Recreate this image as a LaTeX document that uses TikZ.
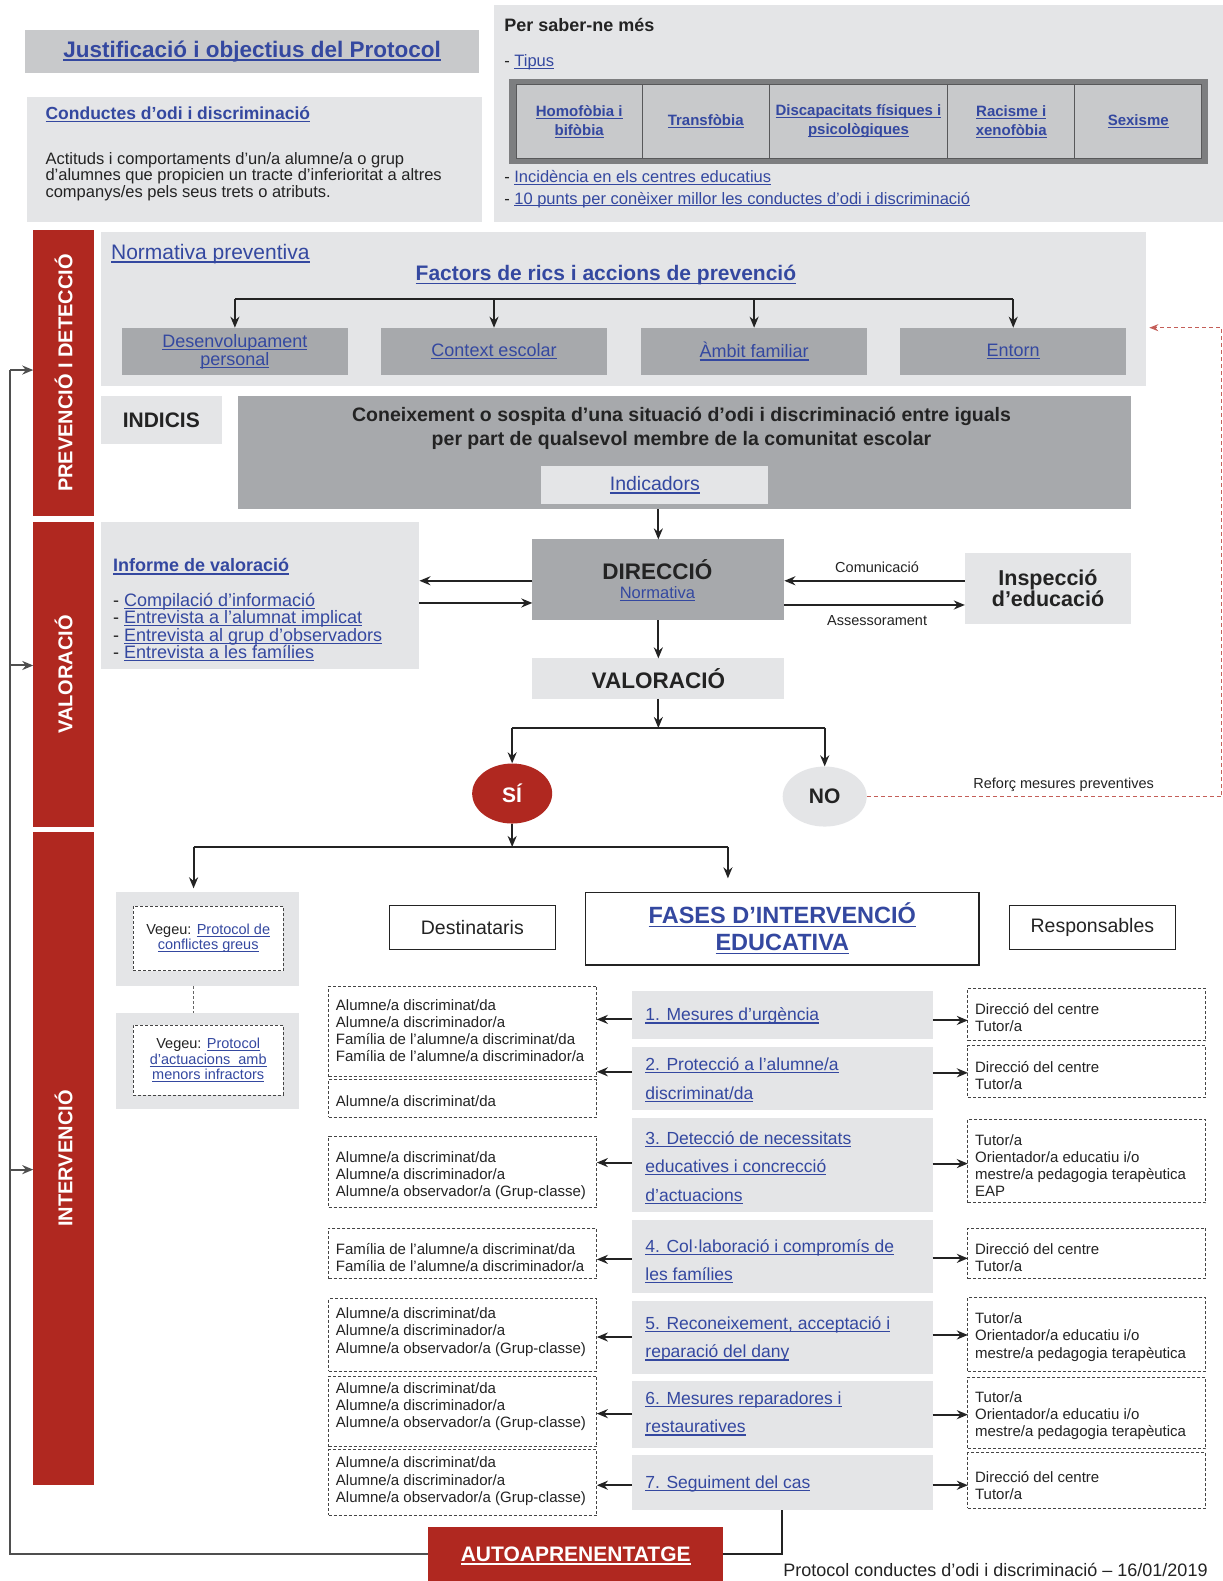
\documentclass[tikz,border=0pt]{standalone}
\usepackage{fontspec}
\setmainfont{Liberation Sans}
\usetikzlibrary{arrows.meta,shapes.geometric}
\definecolor{bandred}{RGB}{176,40,32}
\definecolor{pale}{RGB}{228,229,231}
\definecolor{mid}{RGB}{200,201,203}
\definecolor{dark}{RGB}{167,169,172}
\definecolor{tabframe}{RGB}{125,126,128}
\definecolor{linkc}{RGB}{52,72,160}
\definecolor{ink}{RGB}{35,35,35}
% single-line underline drawn as a rule under the text
\newcommand\undl[1]{\setbox0\hbox{#1}\leavevmode\rlap{\rule[-0.15em]{\wd0}{0.065em}}\box0}
\newcommand\lk[1]{{\color{linkc}\undl{#1}}}
\newcommand\fs[2]{\fontsize{#1}{#2}\selectfont}
% box from corner (x1,y1) to corner (x2,y2): name, x1, y1, x2, y2, style, text
\newcommand\bx[7]{\node[box,#6,minimum width={(#4-(#2))*1.0082pt},minimum height={(#5-(#3))*1.0083pt}] (#1) at ({(#2+#4)/2},{(#3+#5)/2}) {#7};}
\begin{document}
\begin{tikzpicture}[x=1.0082pt,y=-1.0083pt,
  box/.style={rectangle,inner sep=0pt,outer sep=0pt,align=center,text=ink},
  lineconn/.style={draw=ink,line width=2pt},
  arr/.style={lineconn,-{Stealth[length=11pt,width=9pt]}},
  dbox/.style={draw=ink!85,dash pattern=on 3pt off 2pt,line width=1pt,fill=white},
  bandtxt/.style={rotate=90,text=white,font=\fs{20}{20}\bfseries},
  frame/.style={draw=ink,line width=1.2pt,fill=white},
  cell/.style={fill=mid,draw=tabframe!70!black,line width=0.8pt,font=\fs{15}{19}\bfseries},
  lbl/.style={text=ink,inner sep=0pt},
  small/.style={lbl,font=\fs{14.5}{17}},
  reddash/.style={draw=bandred!75,line width=1pt,dash pattern=on 4pt off 3pt}]
\useasboundingbox[fill=white] (0,0) rectangle (1213,1568);

% ---------- header ----------
\bx{just}{25}{30}{475}{72}{fill=mid,font=\fs{22.5}{24}\bfseries}{\lk{Justificació i objectius del Protocol}}
\bx{cond}{27}{96}{478}{220}{fill=pale}{}
\node[lbl,anchor=west,font=\fs{17.5}{19}\bfseries] (condT) at (45,113) {\lk{Conductes d'odi i discriminació}};
\node[lbl,anchor=west,align=left,font=\fs{16.5}{15}] (condB) at (45,175) {Actituds i comportaments d'un/a alumne/a o grup\\d'alumnes que propicien un tracte d'inferioritat a altres\\companys/es pels seus trets o atributs.};

\bx{saber}{490}{5}{1213}{220}{fill=pale}{}
\node[lbl,anchor=west,font=\fs{18}{20}\bfseries] (saberT) at (500,25) {Per saber-ne més};
\node[lbl,anchor=west,font=\fs{16.5}{18}] (tipus) at (500,62) {- \lk{Tipus}};
\bx{tab}{505}{78}{1198}{163}{fill=tabframe}{}
\bx{c1}{512}{84}{637}{157}{cell}{\lk{Homofòbia i}\\\lk{bifòbia}}
\bx{c2}{637}{84}{763}{157}{cell}{\lk{Transfòbia}}
\bx{c3}{763}{84}{940}{157}{cell}{\lk{Discapacitats físiques i}\\\lk{psicològiques}}
\bx{c4}{940}{84}{1066}{157}{cell}{\lk{Racisme i}\\\lk{xenofòbia}}
\bx{c5}{1066}{84}{1192}{157}{cell}{\lk{Sexisme}}
\node[lbl,anchor=west,font=\fs{16.5}{18}] (inc) at (500,176) {- \lk{Incidència en els centres educatius}};
\node[lbl,anchor=west,font=\fs{16.5}{18}] (punts) at (500,198) {- \lk{10 punts per conèixer millor les conductes d'odi i discriminació}};

% ---------- prevenció i detecció ----------
\bx{band1}{33}{228}{93}{512}{fill=bandred}{}
\node[bandtxt] (band1t) at (band1) {PREVENCIÓ I DETECCIÓ};
\bx{prev}{100}{230}{1137}{383}{fill=pale}{}
\node[lbl,anchor=west,font=\fs{21}{22}] (normprev) at (110,252) {\lk{Normativa preventiva}};
\node[lbl,font=\fs{21}{22}\bfseries] (factors) at (601,273) {\lk{Factors de rics i accions de prevenció}};
\bx{f1}{121}{325}{345}{372}{fill=dark,font=\fs{18}{18}}{\lk{Desenvolupament}\\\lk{personal}}
\bx{f2}{378}{325}{602}{372}{fill=dark,font=\fs{18}{18}}{\lk{Context escolar}}
\bx{f3}{636}{325}{860}{372}{fill=dark,font=\fs{18}{18}}{\lk{Àmbit familiar}}
\bx{f4}{893}{325}{1117}{372}{fill=dark,font=\fs{18}{18}}{\lk{Entorn}}
\coordinate (fb1) at (f1.north |- 0,297);
\coordinate (fb4) at (f4.north |- 0,297);
\draw[lineconn] (fb1) -- (fb4);
\foreach \f in {f1,f2,f3,f4}{\draw[arr] (\f.north |- 0,297) -- (\f.north);}

\bx{indicis}{100}{393}{220}{440}{fill=pale,font=\fs{21}{22}\bfseries}{INDICIS}
\bx{conei}{236}{393}{1122}{505}{fill=dark}{}
\node[lbl,align=center,font=\fs{19.5}{24}\bfseries] (coneiT) at (676,425) {Coneixement o sospita d'una situació d'odi i discriminació entre iguals\\per part de qualsevol membre de la comunitat escolar};
\bx{indic}{537}{462}{762}{500}{fill=pale,font=\fs{19.5}{20}}{\lk{Indicadors}}

% ---------- valoració ----------
\bx{band2}{33}{518}{93}{820}{fill=bandred}{}
\node[bandtxt] (band2t) at (band2) {VALORACIÓ};
\bx{informe}{100}{518}{416}{663}{fill=pale}{}
\node[lbl,anchor=west,font=\fs{18}{19}\bfseries] (informeT) at (112,562) {\lk{Informe de valoració}};
\node[lbl,anchor=west,align=left,font=\fs{18}{17.3}] (informeL) at (112,622) {- \lk{Compilació d'informació}\\- \lk{Entrevista a l'alumnat implicat}\\- \lk{Entrevista al grup d'observadors}\\- \lk{Entrevista a les famílies}};

\bx{direccio}{528}{535}{778}{615}{fill=dark}{}
\node[lbl,font=\fs{22.5}{24}\bfseries] (dirT) at (652,565) {DIRECCIÓ};
\node[lbl,font=\fs{16.5}{18}] (dirN) at (652,589) {\lk{Normativa}};
\bx{inspeccio}{957}{548}{1122}{619}{fill=pale,font=\fs{21.5}{20}\bfseries}{Inspecció\\d'educació}
\draw[arr] (conei.south -| direccio.north) -- (direccio.north);
\draw[arr] (direccio.west |- 0,576) -- (informe.east |- 0,576);
\draw[arr] (informe.east |- 0,598) -- (direccio.west |- 0,598);
\draw[arr] (inspeccio.west |- 0,576) -- (direccio.east |- 0,576);
\draw[arr] (direccio.east |- 0,600) -- (inspeccio.west |- 0,600);
\node[small] (comun) at (870,563) {Comunicació};
\node[small] (assess) at (870,615) {Assessorament};

\bx{valor}{528}{653}{778}{693}{fill=pale,font=\fs{22.5}{24}\bfseries}{VALORACIÓ}
\draw[arr] (direccio.south) -- (valor.north);
\node[ellipse,fill=bandred,inner sep=0pt,minimum width=80pt,minimum height=60pt,text=white,font=\fs{21}{21}\bfseries] (si) at (508,787) {SÍ};
\node[ellipse,fill=pale,inner sep=0pt,minimum width=84pt,minimum height=60pt,text=ink,font=\fs{21}{21}\bfseries] (no) at (818,790) {NO};
\coordinate (vb) at (valor.south |- 0,722);
\draw[arr] (valor.south) -- (vb);
\draw[lineconn] (si.north |- vb) -- (no.north |- vb);
\draw[arr] (si.north |- vb) -- (si.north);
\draw[arr] (no.north |- vb) -- (no.north);

% feedback towards prevention
\coordinate (rd1) at (1212,790);
\coordinate (rd2) at (1212,325);
\draw[reddash,-{Stealth[length=9pt,width=7pt]}] (no.east) -- (rd1) -- (rd2) -- ([xshift=3pt]prev.east |- rd2);
\node[small] (reforc) at (1055,778) {Reforç mesures preventives};

% ---------- intervenció ----------
\bx{band3}{33}{825}{93}{1473}{fill=bandred}{}
\node[bandtxt] (band3t) at (band3) {INTERVENCIÓ};
\coordinate (sl) at (192,840);
\coordinate (sr) at (722,840);
\draw[arr] (si.south) -- (si.south |- sl);
\draw[lineconn] (sl) -- (sr);

\bx{vg1}{115}{885}{297}{978}{fill=pale}{}
\bx{vg1in}{132}{899}{281}{963}{dbox,font=\fs{14.5}{15}}{Vegeu: \lk{Protocol de}\\\lk{conflictes greus}}
\bx{vg2}{115}{1005}{297}{1100}{fill=pale}{}
\bx{vg2in}{132}{1017}{281}{1086}{dbox,font=\fs{14.5}{15.5}}{Vegeu: \lk{Protocol}\\\lk{d'actuacions\ \ amb}\\\lk{menors infractors}}
\draw[arr,shorten >=4pt] (sl) -- (sl |- vg1.north);
\draw[draw=ink!70,line width=1pt,dash pattern=on 3pt off 2pt] (sl |- vg1.south) -- (sl |- vg2.north);

\bx{dest}{386}{898}{551}{942}{frame,font=\fs{19.5}{20}}{Destinataris}
\bx{fases}{581}{885}{971}{957}{frame,font=\fs{23.5}{27}\bfseries}{\lk{FASES D'INTERVENCIÓ}\\\lk{EDUCATIVA}}
\bx{resp}{1001}{898}{1166}{942}{frame,font=\fs{19.5}{20}}{Responsables}
\draw[arr,shorten >=14pt] (sr) -- (sr |- fases.north);

% phases
\bx{p1}{627}{983}{925}{1030}{fill=pale}{}
\bx{p2}{627}{1038}{925}{1101}{fill=pale}{}
\bx{p3}{627}{1109}{925}{1202}{fill=pale}{}
\bx{p4}{627}{1210}{925}{1282}{fill=pale}{}
\bx{p5}{627}{1290}{925}{1363}{fill=pale}{}
\bx{p6}{627}{1370}{925}{1436}{fill=pale}{}
\bx{p7}{627}{1443}{925}{1498}{fill=pale}{}
\tikzset{phase/.style={lbl,anchor=west,align=left,font=\fs{17.5}{28.5}}}
\node[phase] (p1t) at (640,1008) {\lk{1. Mesures d'urgència}};
\node[phase] (p2t) at (640,1071) {\lk{2. Protecció a l'alumne/a}\\\lk{discriminat/da}};
\node[phase] (p3t) at (640,1158) {\lk{3. Detecció de necessitats}\\\lk{educatives i concrecció}\\\lk{d'actuacions}};
\node[phase] (p4t) at (640,1251) {\lk{4. Col·laboració i compromís de}\\\lk{les famílies}};
\node[phase] (p5t) at (640,1328) {\lk{5. Reconeixement, acceptació i}\\\lk{reparació del dany}};
\node[phase] (p6t) at (640,1402) {\lk{6. Mesures reparadores i}\\\lk{restauratives}};
\node[phase] (p7t) at (640,1472) {\lk{7. Seguiment del cas}};

% recipients
\bx{d1}{326}{978}{592}{1068}{dbox}{}
\bx{d2}{326}{1071}{592}{1108}{dbox}{}
\bx{d3}{326}{1127}{592}{1198}{dbox}{}
\bx{d4}{326}{1218}{592}{1268}{dbox}{}
\bx{d5}{326}{1288}{592}{1360}{dbox}{}
\bx{d6}{326}{1365}{592}{1435}{dbox}{}
\bx{d7}{326}{1438}{592}{1503}{dbox}{}
\tikzset{who/.style={lbl,anchor=west,align=left,font=\fs{15}{17.2}}}
\node[who] (d1t) at (333,1022) {Alumne/a discriminat/da\\Alumne/a discriminador/a\\Família de l'alumne/a discriminat/da\\Família de l'alumne/a discriminador/a};
\node[who] (d2t) at (333,1092) {Alumne/a discriminat/da};
\node[who] (d3t) at (333,1166) {Alumne/a discriminat/da\\Alumne/a discriminador/a\\Alumne/a observador/a (Grup-classe)};
\node[who] (d4t) at (333,1247) {Família de l'alumne/a discriminat/da\\Família de l'alumne/a discriminador/a};
\node[who] (d5t) at (333,1321) {Alumne/a discriminat/da\\Alumne/a discriminador/a\\Alumne/a observador/a (Grup-classe)};
\node[who] (d6t) at (333,1395) {Alumne/a discriminat/da\\Alumne/a discriminador/a\\Alumne/a observador/a (Grup-classe)};
\node[who] (d7t) at (333,1469) {Alumne/a discriminat/da\\Alumne/a discriminador/a\\Alumne/a observador/a (Grup-classe)};

% people in charge
\bx{r1}{960}{980}{1196}{1032}{dbox}{}
\bx{r2}{960}{1037}{1196}{1088}{dbox}{}
\bx{r3}{960}{1110}{1196}{1193}{dbox}{}
\bx{r4}{960}{1218}{1196}{1268}{dbox}{}
\bx{r5}{960}{1287}{1196}{1360}{dbox}{}
\bx{r6}{960}{1366}{1196}{1437}{dbox}{}
\bx{r7}{960}{1441}{1196}{1496}{dbox}{}
\node[who] (r1t) at (967,1009) {Direcció del centre\\Tutor/a};
\node[who] (r2t) at (967,1067) {Direcció del centre\\Tutor/a};
\node[who] (r3t) at (967,1156) {Tutor/a\\Orientador/a educatiu i/o\\mestre/a pedagogia terapèutica\\EAP};
\node[who] (r4t) at (967,1247) {Direcció del centre\\Tutor/a};
\node[who] (r5t) at (967,1326) {Tutor/a\\Orientador/a educatiu i/o\\mestre/a pedagogia terapèutica};
\node[who] (r6t) at (967,1404) {Tutor/a\\Orientador/a educatiu i/o\\mestre/a pedagogia terapèutica};
\node[who] (r7t) at (967,1473) {Direcció del centre\\Tutor/a};

% arrows from each phase
\foreach \i/\yl/\yr in {1/1011/1012,2/1063/1064,3/1153/1154,4/1249/1248,5/1326/1324,6/1402/1403,7/1473/1473}{
  \draw[arr] (p\i.west |- 0,\yl) -- (d1.east |- 0,\yl);
  \draw[arr] (p\i.east |- 0,\yr) -- (r1.west |- 0,\yr);
}

% ---------- self-learning loop ----------
\bx{autoap}{425}{1514}{717}{1568}{fill=bandred}{}
\node[lbl,text=white,font=\fs{21}{22}\bfseries] (autoT) at (571,1543) {\undl{AUTOAPRENENTATGE}};
\draw[lineconn] (p7.south) |- (autoap.east);
\coordinate (L0) at (10,1541);
\coordinate (L1) at (10,367);
\coordinate (L2) at (10,660);
\coordinate (L3) at (10,1160);
\draw[lineconn,draw=ink!80] (autoap.west) -- (L0) -- (L1);
\draw[arr,draw=ink!80] (L1) -- (band1.west |- L1);
\draw[arr,draw=ink!80] (L2) -- (band2.west |- L2);
\draw[arr,draw=ink!80] (L3) -- (band3.west |- L3);

\node[lbl,anchor=east,font=\fs{18}{20}] (footer) at (1198,1557) {Protocol conductes d'odi i discriminació – 16/01/2019};
\end{tikzpicture}
\end{document}
